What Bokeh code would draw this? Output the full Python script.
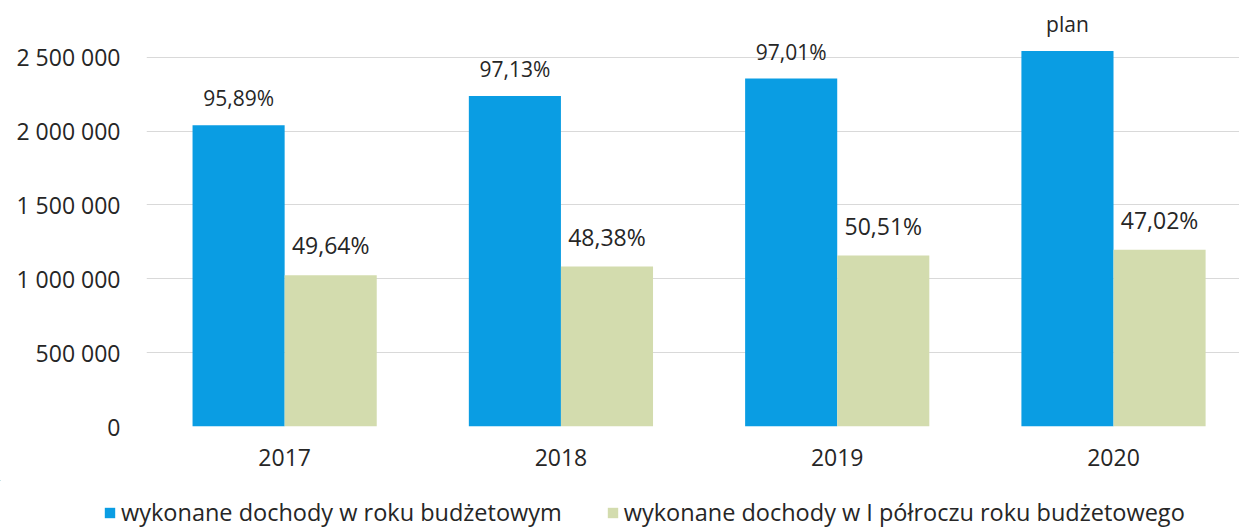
from bokeh.plotting import figure
from bokeh.models import (ColumnDataSource, Range1d, FixedTicker, Legend, LegendItem)
from bokeh.core.properties import value
from bokeh.transform import dodge
from bokeh.layouts import column
from bokeh.embed import file_html
from bokeh.resources import INLINE

years = ["2017", "2018", "2019", "2020"]
full_year = [2040000, 2237000, 2355000, 2542000]
half_year = [1024000, 1083000, 1157000, 1197000]
full_labels = ["95,89%", "97,13%", "97,01%", "plan"]
half_labels = ["49,64%", "48,38%", "50,51%", "47,02%"]
y_ticks = [0, 500000, 1000000, 1500000, 2000000, 2500000]
y_tick_labels = ["0", "500 000", "1 000 000", "1 500 000", "2 000 000", "2 500 000"]
series_names = ["wykonane dochody w roku budżetowym",
                "wykonane dochody w I półroczu roku budżetowego"]

FONT = "Open Sans"
TXT = "#262626"
BLUE = "#0a9de3"
GREEN = "#d3dcae"

src = ColumnDataSource(dict(
    x=list(range(len(years))),
    full=full_year, half=half_year,
    full_lab=full_labels, half_lab=half_labels,
))

p = figure(width=1239, height=480, output_backend="svg", toolbar_location=None,
           x_range=Range1d(-0.5, 3.456), y_range=Range1d(0, 2883800),
           min_border_left=146, min_border_right=0, min_border_top=0,
           min_border_bottom=54)
p.outline_line_color = None
p.background_fill_color = "white"
p.border_fill_color = "white"

bw = 1 / 3
r1 = p.vbar(x=dodge("x", -bw / 2, range=p.x_range), top="full", width=bw,
            source=src, fill_color=BLUE, line_color=None)
r2 = p.vbar(x=dodge("x", bw / 2, range=p.x_range), top="half", width=bw,
            source=src, fill_color=GREEN, line_color=None)

p.text(x=dodge("x", -bw / 2, range=p.x_range), y="full", text="full_lab", source=src,
       text_align="center", text_baseline="alphabetic", y_offset=-27,
       text_font=value(FONT), text_font_size="21px", text_color=TXT)
p.text(x=dodge("x", bw / 2, range=p.x_range), y="half", text="half_lab", source=src,
       text_align="center", text_baseline="alphabetic", y_offset=-30,
       text_font=value(FONT), text_font_size="23px", text_color=TXT)

# axes
xa = p.xaxis[0]
xa.ticker = FixedTicker(ticks=list(range(len(years))))
xa.major_label_overrides = {i: y for i, y in enumerate(years)}
ya = p.yaxis[0]
ya.ticker = FixedTicker(ticks=y_ticks)
ya.major_label_overrides = {t: l for t, l in zip(y_ticks, y_tick_labels)}
for ax in (xa, ya):
    ax.axis_line_color = None
    ax.major_tick_line_color = None
    ax.minor_tick_line_color = None
    ax.major_label_text_font = FONT
    ax.major_label_text_font_size = "23px"
    ax.major_label_text_color = TXT
xa.major_label_standoff = 16
ya.major_label_standoff = 20

p.xgrid.grid_line_color = None
p.ygrid.grid_line_color = "#d9d9d9"
p.ygrid.grid_line_width = 1

# legend strip (separate figure so the legend can span the full width)
lf = figure(width=1239, height=48, output_backend="svg", toolbar_location=None,
            x_axis_type=None, y_axis_type=None,
            x_range=Range1d(100, 104), y_range=Range1d(-2e7, -1e7),
            min_border_left=0, min_border_right=0, min_border_top=0, min_border_bottom=0)
lf.outline_line_color = None
lf.xgrid.grid_line_color = None
lf.ygrid.grid_line_color = None
# same data as the bars; the strip's ranges keep them out of view
l1 = lf.vbar(x="x", top="full", width=bw, source=src, fill_color=BLUE, line_color=None)
l2 = lf.vbar(x="x", top="half", width=bw, source=src, fill_color=GREEN, line_color=None)
for fig in (p, lf):
    try:
        fig.frame_align = False
    except AttributeError:
        pass

legend = Legend(items=[LegendItem(label=series_names[0], renderers=[l1]),
                       LegendItem(label=series_names[1], renderers=[l2])],
                orientation="horizontal", location=(103, 0),
                padding=0, margin=0, spacing=44, label_standoff=5,
                glyph_width=13, glyph_height=13, label_height=24,
                label_text_font=FONT, label_text_font_size="23.5px",
                label_text_color=TXT, border_line_color=None,
                background_fill_alpha=0)
lf.add_layout(legend, "center")

layout = column(p, lf, spacing=0)
open("out.html", "w").write(file_html(layout, INLINE))
